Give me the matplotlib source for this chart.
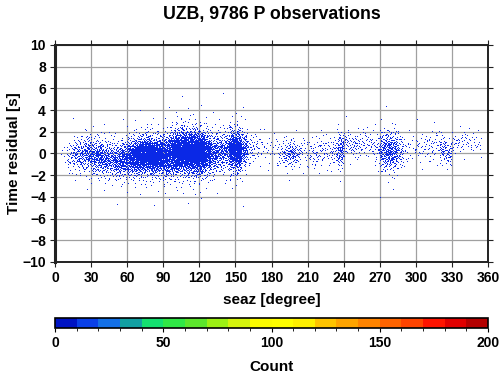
"""P-wave time residuals versus station-event azimuth, GMT-style scatter."""

import matplotlib as mpl
import numpy as np

mpl.use("Agg")
import matplotlib.pyplot as plt
from matplotlib.colors import BoundaryNorm, ListedColormap

TITLE = "UZB, 9786 P observations"

# 5-degree azimuth bins: start of bin, number of picks,
# centre of the residual cloud [s] and its spread [s]
bin_start = [
    0, 5, 10, 15, 20, 25, 30, 35, 40, 45, 50, 55, 60, 65, 70, 75, 80, 85,
    90, 95, 100, 105, 110, 115, 120, 125, 130, 135, 140, 145, 150, 155, 160, 165, 170, 175,
    180, 185, 190, 195, 200, 205, 210, 215, 220, 225, 230, 235, 240, 245, 250, 255, 260, 265,
    270, 275, 280, 285, 290, 295, 300, 305, 310, 315, 320, 325, 330, 335, 340, 345, 350, 355,
]
bin_count = [
    0, 5, 30, 60, 80, 100, 120, 130, 110, 100, 120, 150, 200, 280, 340, 400, 340, 280,
    260, 360, 480, 520, 520, 560, 440, 260, 150, 120, 120, 300, 340, 120, 30, 20, 15, 10,
    10, 20, 55, 60, 30, 15, 20, 25, 25, 20, 30, 100, 30, 25, 25, 20, 20, 30,
    100, 130, 110, 50, 15, 8, 15, 15, 20, 20, 45, 45, 15, 15, 15, 10, 10, 0,
]
bin_mean = [
    0.0, 0.0, -0.3, 0.0, -0.2, 0.0, -0.3, -0.3, -0.5, -0.5, -0.7, -0.5, -0.4, -0.3, -0.2, -0.1, -0.3, -0.2,
    -0.3, 0.0, 0.1, 0.2, 0.1, 0.0, 0.0, 0.0, 0.0, 0.2, 0.3, 0.3, 0.2, 0.4, 0.4, 0.6, 0.5, 0.3,
    0.5, 0.0, -0.1, 0.0, 0.0, 0.3, 0.0, -0.2, 0.3, 0.2, 0.2, 0.3, 1.0, 0.7, 0.8, 1.0, 0.8, 0.5,
    0.3, 0.2, 0.2, 0.2, 0.4, 0.5, 0.6, 0.6, 0.5, 0.8, 0.4, 0.0, 1.0, 1.0, 1.2, 1.0, 0.8, 0.0,
]
bin_spread = [
    0.7, 0.7, 0.7, 0.75, 0.75, 0.8, 0.8, 0.8, 0.8, 0.8, 0.8, 0.8, 0.8, 0.8, 0.8, 0.8, 0.8, 0.8,
    0.9, 0.9, 0.9, 0.9, 0.9, 0.9, 0.9, 0.9, 0.9, 0.9, 0.9, 0.9, 0.9, 0.9, 0.7, 0.7, 0.7, 0.7,
    0.7, 0.7, 0.6, 0.6, 0.6, 0.7, 0.7, 0.7, 0.7, 0.7, 0.7, 0.8, 0.6, 0.6, 0.6, 0.6, 0.6, 0.7,
    0.9, 0.9, 0.9, 0.8, 0.7, 0.7, 0.7, 0.7, 0.7, 0.7, 0.6, 0.6, 0.5, 0.5, 0.5, 0.5, 0.5, 0.5,
]
BIN_WIDTH = 5.0
TAIL_EVERY = 10      # every n-th pick belongs to the wide outlier tail
TAIL_FACTOR = 1.9

# discrete colour table of the count scale (10 counts per step)
cpt_colors = [
    "#0014c4", "#0a40e8", "#1470e6", "#12a0a2", "#14e070", "#30e846", "#5ce62c", "#9cf014",
    "#d4f40c", "#fcfc00", "#ffff00", "#fff000", "#ffc400", "#ffa400", "#ff8400", "#ff6400",
    "#ff4400", "#ff1400", "#e00000", "#b40000",
]
cpt_edges = list(range(0, 201, 10))
cbar_ticks = [0, 50, 100, 150, 200]

DOT = "#0a28e6"
GRID = "#a0a0a0"
FRAME = "#222222"


def halton(idx, base):
    out = np.zeros(idx.shape, dtype=float)
    f = 1.0 / base
    i = idx.copy()
    while np.any(i > 0):
        out += f * (i % base)
        i //= base
        f /= base
    return out


def normal_quantile(p):
    """Winitzki approximation of the inverse normal CDF."""
    x = 2.0 * p - 1.0
    a = 0.147
    ln = np.log(1.0 - x * x)
    t = 2.0 / (np.pi * a) + ln / 2.0
    return np.sqrt(2.0) * np.sign(x) * np.sqrt(np.sqrt(t * t - ln / a) - t)


def picks_from_bins():
    """Spread each bin's picks over its cell with a fixed Halton pattern."""
    az, res = [], []
    offset = 1
    for start, n, mu, sd in zip(bin_start, bin_count, bin_mean, bin_spread):
        if n == 0:
            continue
        k = np.arange(offset, offset + n)
        offset += n
        u = halton(k, 2)
        v = np.clip(halton(k, 3), 1e-3, 1 - 1e-3)
        scale = np.where(k % TAIL_EVERY == 0, sd * TAIL_FACTOR, sd)
        az.append(start + BIN_WIDTH * u)
        res.append(mu + scale * normal_quantile(v))
    return np.concatenate(az), np.concatenate(res)


plt.rcParams["font.family"] = ["Liberation Sans", "DejaVu Sans"]
plt.rcParams["font.weight"] = "bold"

fig = plt.figure(figsize=(5.0, 3.74), dpi=100)
ax = fig.add_axes([0.11, 0.2995, 0.866, 0.5802])

seaz, resid = picks_from_bins()
# pixel-sized cells, like the gridded picks of the original
xe = np.arange(0.0, 360.0 + 0.001, 360.0 / 433.0)
ye = np.arange(-10.0, 10.0 + 0.001, 20.0 / 217.0)
h, _, _ = np.histogram2d(seaz, resid, bins=[xe, ye])
hm = np.ma.masked_where(h.T == 0, np.ones_like(h.T))
ax.pcolormesh(xe, ye, hm, cmap=ListedColormap([DOT]), antialiased=False,
              linewidth=0, rasterized=True, zorder=2)

ax.set_xlim(0, 360)
ax.set_ylim(-10, 10)
ax.set_xticks(range(0, 361, 30))
ax.set_yticks(range(-10, 11, 2))
ax.grid(True, color=GRID, linewidth=0.9, zorder=1)
ax.set_axisbelow(True)
ax.tick_params(direction="out", length=3.5, width=0.8, color=FRAME, labelsize=10,
               pad=3, top=True, right=True)
for lab in ax.get_xticklabels() + ax.get_yticklabels():
    lab.set_fontweight("bold")
for sp in ax.spines.values():
    sp.set_linewidth(1.4)
    sp.set_color(FRAME)
ax.spines["left"].set_linewidth(2.2)

ax.set_title(TITLE, fontsize=12.8, fontweight="bold", pad=19)
ax.set_xlabel("seaz [degree]", fontsize=11, fontweight="bold", labelpad=6)
ax.set_ylabel("Time residual [s]", fontsize=11, fontweight="bold", labelpad=1)

cax = fig.add_axes([0.11, 0.123, 0.866, 0.027])
cmap = ListedColormap(cpt_colors)
norm = BoundaryNorm(cpt_edges, cmap.N)
cb = fig.colorbar(mpl.cm.ScalarMappable(norm=norm, cmap=cmap), cax=cax,
                  orientation="horizontal", ticks=cbar_ticks)
cb.outline.set_linewidth(1.2)
cb.outline.set_edgecolor("black")
cax.tick_params(direction="out", length=3, width=0.8, labelsize=10, pad=3)
for lab in cax.get_xticklabels():
    lab.set_fontweight("bold")
cb.set_label("Count", fontsize=11, fontweight="bold", labelpad=7)

fig.savefig("out.png", dpi=100)
plt.close(fig)
